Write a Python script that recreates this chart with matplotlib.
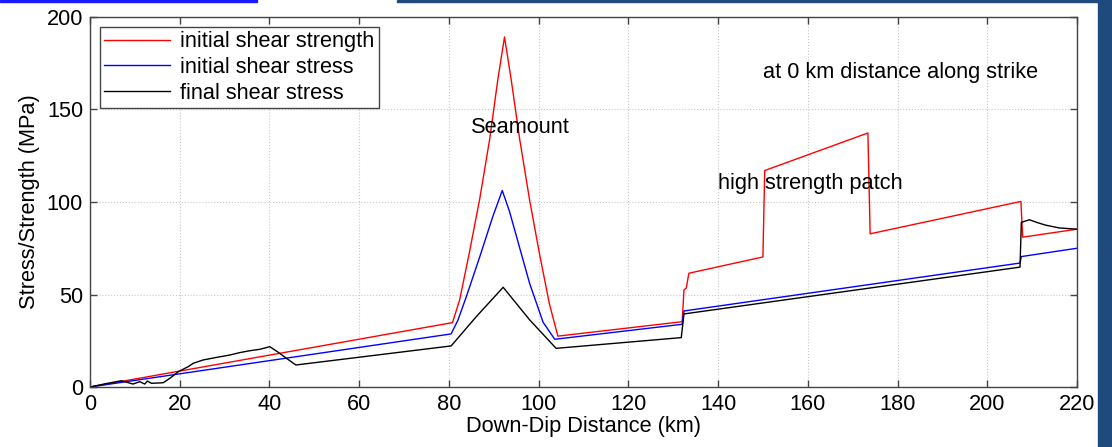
import matplotlib.pyplot as plt
from matplotlib.patches import Rectangle

plt.rcParams['font.family'] = ['Liberation Sans', 'DejaVu Sans']

# 초기 전단 강도 (initial shear strength)
dist_strength = [0, 80.8, 82.4, 84.6, 86.9, 89.1, 90.9, 92.4, 93.9, 95.8, 98.0, 100.2, 102.4, 104.3,
                 132.0, 132.4, 132.9, 133.5, 150.0, 150.4, 173.4, 173.9, 207.5, 207.9, 220]
strength = [0, 34.8, 47, 73, 102, 134, 166, 189.2, 166, 133.7, 101, 72, 45, 27.5,
            35.3, 52.5, 53.4, 61.5, 70.3, 117, 137.3, 82.8, 100.3, 81, 85.3]

# 초기 전단 응력 (initial shear stress)
dist_stress0 = [0, 80.5, 82.0, 83.9, 86.9, 89.8, 91.9, 93.5, 95.0, 98.0, 101.0, 103.6, 132.0, 132.4,
                207.3, 207.6, 220]
stress0 = [0, 28.7, 36, 48.9, 70.5, 92.2, 106.2, 95, 82, 56, 35, 25.8, 33.9, 41.1,
           67.0, 70.5, 75.0]

# 최종 전단 응력 (final shear stress)
dist_stress1 = [0, 3.5, 7.0, 9.6, 11.1, 12.2, 12.8, 13.7, 16.3, 17.8, 19.7, 21.9, 23.0, 25.2, 28.2,
                31.2, 33.4, 35.6, 37.9, 40.1, 42.3, 43.8, 45.9, 80.5, 86.1, 92.1, 98.0, 103.9,
                131.8, 132.4, 207.3, 207.6, 209.4, 211.0, 213.0, 216.0, 220]
stress1 = [0, 1.8, 3.4, 1.6, 2.9, 1.6, 3.2, 2.0, 2.3, 4.7, 8.3, 11.0, 12.8, 14.6, 16.0,
           17.3, 18.6, 19.6, 20.4, 21.8, 18.2, 15.5, 11.9, 22.2, 38.0, 53.9, 36.3, 20.9,
           26.7, 39.5, 64.8, 89.0, 90.4, 89.0, 87.5, 86.0, 85.3]

fs = 15.7

fig = plt.figure(figsize=(11.12, 4.47), dpi=100)
ax = fig.add_axes([0.0809, 0.1342, 0.8876, 0.8278])

ax.plot(dist_strength, strength, color='#ff0000', lw=1.0, label='initial shear strength')
ax.plot(dist_stress0, stress0, color='#0000ff', lw=1.0, label='initial shear stress')
ax.plot(dist_stress1, stress1, color='#000000', lw=1.0, label='final shear stress')

ax.set_xlim(0, 220)
ax.set_ylim(0, 200)
ax.set_xticks(range(0, 221, 20))
ax.set_yticks(range(0, 201, 50))
ax.grid(True, ls=':', color='#c8c8c8', lw=0.8)
ax.tick_params(direction='in', top=True, right=True, length=5, width=1, color='#444444',
               labelsize=fs, pad=5)
for s in ax.spines.values():
    s.set_color('#444444')
    s.set_linewidth(1)

ax.set_xlabel('Down-Dip Distance (km)', fontsize=fs, labelpad=1)
ax.set_ylabel('Stress/Strength (MPa)', fontsize=fs, labelpad=5)

ax.text(96, 140, 'Seamount', fontsize=fs, ha='center', va='center')
ax.text(140, 110, 'high strength patch', fontsize=fs, ha='left', va='center')
ax.text(150, 170, 'at 0 km distance along strike', fontsize=fs, ha='left', va='center')

leg = ax.legend(loc='upper left', fontsize=fs, fancybox=False, framealpha=1,
                edgecolor='#444444', handlelength=3, labelspacing=0.22,
                borderaxespad=0.45, borderpad=0.2, handletextpad=0.5)
leg.get_frame().set_linewidth(1)

# 슬라이드 배경 (테두리)
W, H = 1112, 447
fig.patches.append(Rectangle((1098 / W, 0), 14 / W, 1, transform=fig.transFigure,
                             color='#1f4a7e', zorder=0))
fig.patches.append(Rectangle((397 / W, 1 - 2 / H), 715 / W, 2 / H, transform=fig.transFigure,
                             color='#1f4a7e', zorder=0))
fig.patches.append(Rectangle((0, 1 - 2 / H), 257 / W, 2 / H, transform=fig.transFigure,
                             color='#1a1aff', zorder=0))

fig.savefig('out.png', dpi=100)
